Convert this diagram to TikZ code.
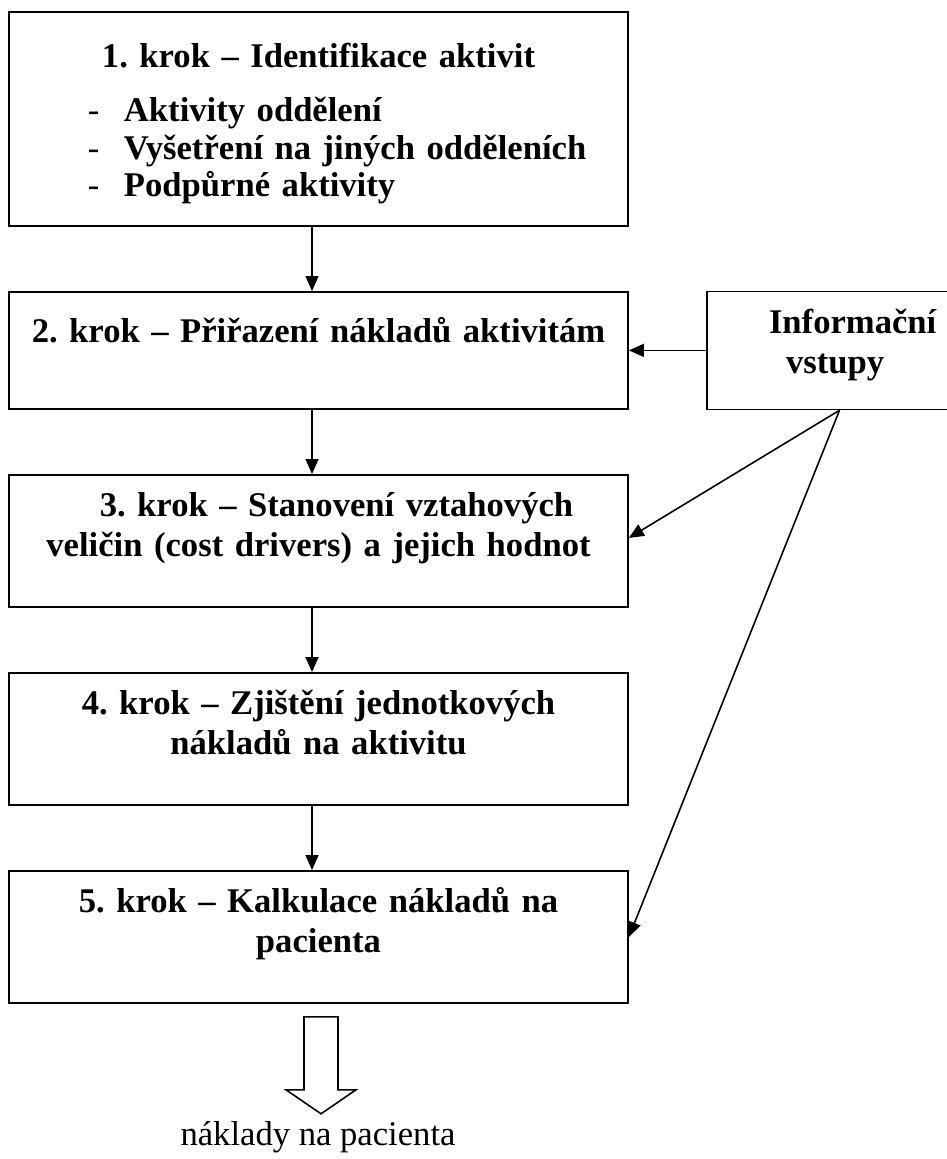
\documentclass[tikz,border=0pt]{standalone}
\usepackage{fontspec}
\setmainfont{Liberation Serif}
\usetikzlibrary{arrows.meta, positioning, calc}
\newcommand{\polozka}{\hspace*{1.58cm}\makebox[0.72cm][l]{\mdseries -}}
\frenchspacing

\begin{document}
\begin{tikzpicture}[
        node distance=1.285cm and 1.545cm,
        krok/.style={rectangle, draw=black, line width=1pt, inner sep=0pt, text width=12.38cm, align=center, font=\fontsize{19.7pt}{22.8pt}\selectfont\bfseries},
        kratky/.style={krok, text height=0.84cm, text depth=1.8cm},
        spoj/.style={-{Triangle[length=0.3cm, width=0.26cm]}, line width=0.9pt, black}
      ]
        \useasboundingbox (0,0) rectangle (18.94,-23.18);

        \node[krok, align=left, text height=1.12cm, text depth=3.16cm, anchor=north] (k1) at (6.37,-0.22) {\makebox[\linewidth]{1. krok – Identifikace aktivit}\\[0.28cm]
          \polozka Aktivity oddělení\\[-0.06cm]
          \polozka Vyšetření na jiných odděleních\\[-0.06cm]
          \polozka Podpůrné aktivity};
        \node[krok, text height=1.02cm, text depth=1.32cm, below=of k1] (k2) {2. krok – Přiřazení nákladů aktivitám};
        \node[kratky, below=of k2] (k3) {\hspace*{0.72cm}3. krok – Stanovení vztahových\\ veličin (cost drivers) a jejich hodnot};
        \node[kratky, below=of k3] (k4) {4. krok – Zjištění jednotkových\\ nákladů na aktivitu};
        \node[kratky, below=of k4] (k5) {5. krok – Kalkulace nákladů na\\ pacienta};
        \node[krok, align=left, text width=5.06cm, text height=0.84cm, text depth=1.52cm, right=of k2] (info) {\hspace*{1.24cm}Informační\\ \hspace*{1.58cm}vstupy};
        \node[anchor=base, font=\fontsize{19.7pt}{22.8pt}\selectfont] (vysl) at (6.36,-22.9) {náklady na pacienta};

        \draw[spoj] ([xshift=-0.13cm]k1.south) -- ([xshift=-0.13cm]k2.north);
        \draw[spoj] ([xshift=-0.13cm]k2.south) -- ([xshift=-0.13cm]k3.north);
        \draw[spoj] ([xshift=-0.13cm]k3.south) -- ([xshift=-0.13cm]k4.north);
        \draw[spoj] ([xshift=-0.13cm]k4.south) -- ([xshift=-0.13cm]k5.north);
        \draw[spoj] (info.west) -- (k2.east);
        \draw[spoj] ([xshift=0.12cm]info.south) -- ([yshift=0.06cm]k3.east);
        \draw[spoj] ([xshift=0.12cm]info.south) -- (k5.east);

        % hollow arrow to the result
        \draw[line width=0.9pt] ($(k5.south)+(-0.29,-0.26)$) -- ++(0,-1.46) -- ++(-0.36,0) -- ++(0.70,-0.48) -- ++(0.70,0.48) -- ++(-0.36,0) -- ++(0,1.46) -- cycle;
      \end{tikzpicture}
\end{document}
